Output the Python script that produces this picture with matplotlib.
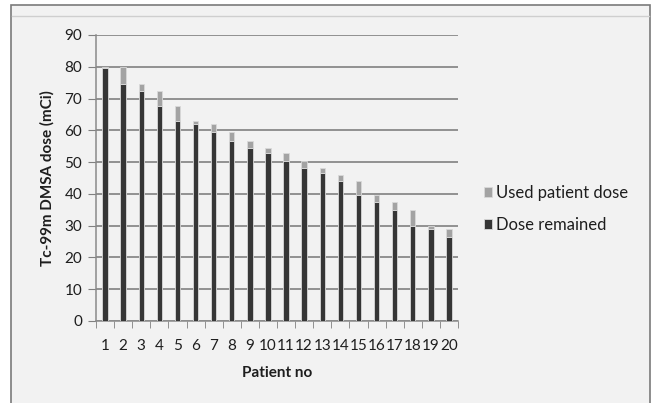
import numpy as np
import matplotlib.pyplot as plt
from matplotlib.patches import Rectangle
from matplotlib.lines import Line2D

patients = [str(i) for i in range(1, 21)]
dose_remained = [79.5, 74.5, 72.5, 67.5, 63, 62, 59.5, 56.5, 54.5, 53,
                 50.5, 48, 46.5, 44, 39.5, 37.5, 35, 30, 29, 26.5]
used_dose = [0.5, 5.5, 2, 5, 4.5, 0.8, 2.5, 3, 2, 1.3,
             2.5, 2.5, 1.5, 2, 4.5, 2, 2.5, 5, 1, 2.5]

plt.rcParams['font.family'] = ['Lato', 'DejaVu Sans']

fig = plt.figure(figsize=(6.56, 4.03), dpi=100)
fig.patch.set_facecolor('white')

# panel frame like the spreadsheet chart area
W, H = 656, 403
fig.patches.append(Rectangle((11 / W, -0.01), 639 / W, 1 - 5 / H + 0.01,
                             transform=fig.transFigure, facecolor='#f2f2f2',
                             edgecolor='#7a7a7a', linewidth=1.2, zorder=-5))
fig.lines.append(Line2D([12 / W, 649 / W], [1 - 16 / H, 1 - 16 / H],
                        transform=fig.transFigure, color='#cfcfcf', lw=1, zorder=-4))

ax = fig.add_axes([96 / W, 1 - 321 / H, 362 / W, 286 / H])
ax.set_zorder(2)
ax.set_facecolor('none')

x = np.arange(len(patients))
w = 0.3
ax.bar(x, dose_remained, w, color='#363636', edgecolor='#d9d9d9', linewidth=0.6,
       label='Dose remained', zorder=3)
ax.bar(x, used_dose, w, bottom=dose_remained, color='#a3a3a3', edgecolor='#d9d9d9',
       linewidth=0.6, label='Used patient dose', zorder=3)

ax.set_ylim(0, 90)
ax.set_yticks(range(0, 91, 10))
ax.set_xlim(-0.5, len(patients) - 0.5)
ax.set_xticks(x)
ax.set_xticklabels(patients)
ax.set_xticks(np.arange(-0.5, len(patients), 1), minor=True)
ax.tick_params(axis='x', which='major', length=0, pad=13, labelsize=11)
ax.tick_params(axis='x', which='minor', length=5, color='#808080', direction='out')
ax.tick_params(axis='y', length=6, color='#808080', labelsize=11, pad=4)
for lab in ax.get_xticklabels() + ax.get_yticklabels():
    lab.set_color('#1e1e1e')

ax.grid(axis='y', color='#777777', linewidth=1.1, zorder=1)
for s in ['top', 'right']:
    ax.spines[s].set_visible(False)
for s in ['left', 'bottom']:
    ax.spines[s].set_color('#8a8a8a')
    ax.spines[s].set_linewidth(1.1)

ax.set_xlabel('Patient no', fontsize=11, fontweight='bold', labelpad=9.5, color='#1e1e1e')
ax.set_ylabel('Tc-99m DMSA dose (mCi)', fontsize=11, fontweight='bold', labelpad=7,
              color='#1e1e1e')

handles, labels = ax.get_legend_handles_labels()
leg = fig.legend(handles[::-1], labels[::-1], loc='center left',
                 bbox_to_anchor=(469 / W, 1 - 209 / H), frameon=False,
                 fontsize=12, handlelength=0.5, handleheight=0.5,
                 handletextpad=0.25, labelspacing=0.95)
for t in leg.get_texts():
    t.set_color('#1e1e1e')

fig.savefig('out.png', dpi=100, facecolor=fig.get_facecolor())
